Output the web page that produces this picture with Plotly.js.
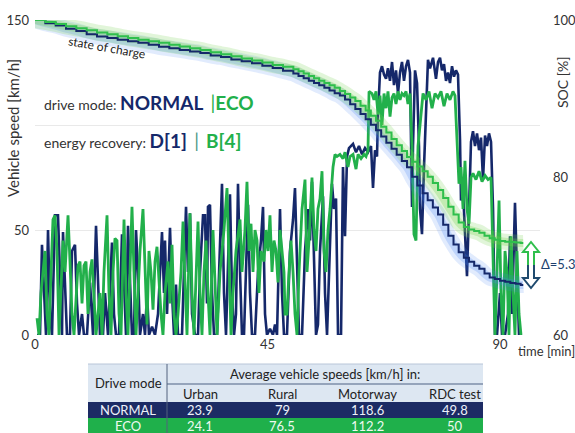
<!DOCTYPE html>
<html><head><meta charset="utf-8">
<script src="https://cdn.plot.ly/plotly-3.0.1.min.js"></script>
<style>html,body{margin:0;padding:0;background:#fff}#chart{width:575px;height:433px}</style>
</head><body><div id="chart"></div>
<script>
// ---- speed traces (time in min, speed in km/h) ----
const normalTime = [0.39,0.97,1.35,1.74,2.13,2.52,2.90,3.29,3.87,4.45,
4.84,5.23,5.42,5.81,6.19,6.77,7.16,7.74,8.13,8.52,
9.10,9.48,10.06,10.65,11.23,11.81,12.19,12.58,13.16,13.55,
14.13,14.52,14.90,15.29,15.68,16.26,16.84,17.23,17.61,18.00,
18.39,18.77,19.16,19.55,19.94,20.32,20.90,21.29,21.68,22.06,
22.65,23.23,23.81,24.19,24.58,24.97,25.16,25.55,26.13,26.52,
26.90,27.29,27.68,28.45,29.23,29.61,30.00,30.39,30.97,31.55,
31.94,32.52,32.90,33.29,33.48,33.87,34.26,34.65,35.23,36.19,
36.58,36.97,37.35,37.74,38.13,38.52,38.90,39.29,39.68,40.06,
40.45,40.84,41.23,41.61,42.00,42.58,43.16,43.74,44.13,44.52,
44.90,45.48,46.06,46.45,46.84,47.42,47.81,48.19,48.77,49.35,
49.94,50.32,50.71,51.10,51.68,52.26,52.84,53.23,53.61,54.00,
54.39,54.77,55.16,55.74,56.13,56.52,57.10,57.48,57.87,58.26,
58.65,59.23,59.61,60.00,60.39,60.77,61.55,62.13,62.71,63.29,
63.87,64.45,65.03,65.42,65.81,66.19,66.39,66.77,67.16,67.55,
67.94,68.32,68.71,69.10,69.48,69.87,70.26,70.65,71.03,71.42,
71.81,72.19,72.58,72.77,72.97,73.16,73.55,73.94,74.32,74.52,
74.90,75.29,75.68,76.06,76.45,77.03,77.61,78.00,78.39,78.77,
79.16,79.55,79.94,80.32,80.71,81.10,81.48,81.87,82.26,82.45,
82.84,83.22,83.61,84.00,84.39,84.77,85.16,85.55,85.94,86.32,
86.71,87.10,87.48,87.87,88.26,88.65,89.03,89.42,90.00,90.39,
90.97,91.55,91.94,92.32,92.90,93.29,93.68,94.26];
const normalSpeed = [0,0,43,20,0,50,10,0,57,57,
30,0,49,20,0,0,40,43,15,0,
10,0,0,25,0,52,30,0,0,20,
0,25,44,10,0,0,48,25,0,52,
20,0,0,50,30,0,10,0,20,0,
4,0,10,30,49,20,45,10,51,20,
0,24,0,0,61,30,58,10,0,0,
30,57,57,15,61,62,20,0,0,72,
20,0,40,67,20,0,10,72,30,0,
0,30,62,20,0,0,30,45,61,10,
0,3,0,5,0,60,20,0,0,40,
55,70,30,0,0,40,60,45,73,30,
0,5,40,66,20,0,50,72,60,65,
0,0,80,47,85,89,91,87,90,86,
89,87,90,70,88,85,105,125,128,124,
122,127,121,130,119,126,115,125,130,121,
128,131,125,100,61,90,126,120,90,60,
48,80,110,131,127,132,122,130,132,126,
129,121,125,120,128,123,126,124,93,64,
69,50,28,60,92,97,90,96,88,94,
74,95,90,96,92,60,0,0,20,0,
0,10,47,10,63,30,0,0];

const ecoTime = [0.39,0.77,1.16,1.94,2.32,2.71,3.10,3.48,3.87,4.26,
4.65,5.03,5.42,5.81,6.39,6.77,7.16,7.55,7.94,8.32,
8.71,9.10,9.48,9.87,10.26,10.65,11.03,11.42,11.81,12.19,
12.58,12.97,13.35,13.94,14.32,14.71,15.10,15.48,15.87,16.26,
16.65,17.23,17.61,18.00,18.39,18.77,19.16,19.55,19.94,20.32,
20.90,21.29,21.68,22.06,22.45,22.84,23.23,23.61,24.00,24.39,
24.77,25.16,25.74,26.13,26.52,26.90,27.29,27.68,28.26,28.65,
29.03,29.42,30.00,30.39,30.77,31.16,31.55,31.94,32.32,32.71,
33.10,33.48,33.87,34.45,34.84,35.23,35.81,36.58,37.16,37.55,
37.94,38.32,38.90,39.68,40.06,40.64,41.03,41.42,41.81,42.19,
42.58,42.97,43.35,43.74,44.32,44.71,45.10,45.48,45.87,46.26,
46.65,47.03,47.42,47.81,48.19,48.39,48.77,49.16,49.55,49.94,
50.32,50.71,51.10,51.68,52.26,52.65,53.03,53.61,54.00,54.39,
54.77,55.16,55.55,55.94,56.32,56.71,57.10,57.68,58.06,58.45,
59.03,59.61,60.00,60.58,60.97,61.55,62.13,62.52,63.10,63.68,
64.06,64.45,64.65,65.23,65.61,66.00,66.39,66.77,67.16,67.55,
67.94,68.32,68.71,69.10,69.48,69.87,70.26,70.65,71.03,71.42,
71.81,72.19,72.58,72.97,73.35,73.74,74.13,74.52,75.10,75.68,
76.26,76.84,77.42,78.00,78.58,79.16,79.74,80.32,80.90,81.29,
81.68,82.06,82.45,82.84,83.22,83.61,84.00,84.39,84.77,85.35,
85.94,86.52,87.10,87.68,88.26,88.65,89.03,89.42,89.81,90.19,
90.58,90.97,91.35,91.74,92.13,92.52,92.90,93.29,93.68,94.06];
const ecoSpeed = [8,0,20,40,10,0,30,55,57,40,
0,20,45,30,57,35,10,0,20,33,
35,15,33,35,10,30,36,20,0,10,
20,0,30,57,20,0,30,46,45,10,
0,55,20,0,35,61,30,0,20,40,
60,30,5,40,30,12,35,42,25,10,
0,20,35,15,43,10,0,10,30,54,
25,0,58,20,0,30,54,20,0,30,
45,20,0,50,20,0,30,50,70,30,
0,20,40,55,30,50,73,40,53,30,
50,45,20,40,35,50,40,57,30,45,
40,25,50,40,30,10,10,30,45,30,
10,0,30,60,74,30,45,75,50,40,
60,65,78,40,30,50,60,80,86,85,
86,84,87,80,85,86,79,86,84,86,
85,88,116,115,112,116,105,114,100,115,
108,116,104,113,115,110,116,112,115,114,
116,110,115,90,48,45,90,100,115,112,
116,108,115,113,116,109,115,112,116,114,
88,72,80,60,83,60,53,75,77,74,
78,73,76,74,75,40,0,30,64,20,
0,40,30,0,47,20,0,40,10,0];

// ---- state of charge (%) ----
const socTime = [0,2,4,6,8,10,12,14,16,18,20,22,24,26,28,30,32,34,36,38,40,42,44,46,48,
50,51,52,53,54,55,56,57,58,59,60,61,62,63,64,65,66,67,68,69,70,71,72,73,74,75,76,77,78,79,
80,81,82,83,84,85,86,87,88,89,90,91,92,93,94,94.5];
const socNormal = [100,99.6,99.3,98.9,98.6,98.2,97.9,97.7,97.5,97.3,97.1,96.85,96.6,96.4,96.2,96.0,95.8,95.5,95.3,95.0,94.75,94.5,94.2,93.9,93.55,
93.2,92.9,92.6,92.3,92.0,91.7,91.4,91.05,90.7,90.4,89.9,89.3,88.7,88.05,87.4,86.7,86.0,85.2,84.4,83.65,82.9,82.1,81.3,80.1,79.0,78.0,77.1,76.2,75.3,74.0,
72.6,71.5,70.5,69.8,69.3,68.8,68.4,67.8,67.3,67.1,66.9,66.75,66.6,66.5,66.35,66.35];
const socEco = [100,99.75,99.5,99.2,98.95,98.7,98.4,98.2,97.95,97.7,97.5,97.3,97.1,96.85,96.65,96.4,96.2,95.9,95.65,95.4,95.1,94.85,94.6,94.3,94.05,
93.75,93.5,93.2,92.9,92.6,92.3,92.0,91.7,91.4,91.0,90.6,90.15,89.7,89.1,88.5,87.85,87.2,86.45,85.7,84.9,84.1,83.35,82.6,82.0,81.4,80.8,80.1,79.3,78.4,77.4,
76.3,75.3,74.3,73.7,73.4,73.2,73.0,72.6,72.3,72.1,71.95,71.85,71.8,71.75,71.68,71.68];

// ---- axis ticks ----
const timeTicks = [0,45,90];
const speedTicks = [0,50,100,150];
const speedTickText = ['0','50','','150'];
const socTicks = [60,80,100];
const socDelta = '5.3';

// ---- table ----
const tableModes = ['NORMAL','ECO'];
const tableColumns = ['Urban','Rural','Motorway','RDC test'];
const avgNormal = [23.9, 79, 118.6, 49.8];
const avgEco = [24.1, 76.5, 112.2, 50];

const NAVY = '#15286a', GREEN = '#22b04b', SOCGREEN = '#2fbf4c';
const FONT = 'Lato, "Open Sans", sans-serif';

const traces = [
  {x: normalTime, y: normalSpeed, type:'scatter', mode:'lines', line:{color:NAVY, width:2.6}, hoverinfo:'skip'},
  {x: ecoTime, y: ecoSpeed, type:'scatter', mode:'lines', line:{color:GREEN, width:2.8}, hoverinfo:'skip'},
  {x: socTime, y: socNormal, yaxis:'y2', type:'scatter', mode:'lines', line:{color:'rgba(70,130,245,0.16)', width:16, shape:'spline'}, hoverinfo:'skip'},
  {x: socTime, y: socNormal, yaxis:'y2', type:'scatter', mode:'lines', line:{color:'rgba(70,130,245,0.22)', width:8, shape:'spline'}, hoverinfo:'skip'},
  {x: socTime, y: socEco, yaxis:'y2', type:'scatter', mode:'lines', line:{color:'rgba(120,210,80,0.22)', width:16, shape:'spline'}, hoverinfo:'skip'},
  {x: socTime, y: socEco, yaxis:'y2', type:'scatter', mode:'lines', line:{color:'rgba(120,210,80,0.28)', width:8, shape:'spline'}, hoverinfo:'skip'},
  {x: socTime, y: socNormal, yaxis:'y2', type:'scatter', mode:'lines', line:{color:NAVY, width:2, shape:'hv'}, hoverinfo:'skip'},
  {x: socTime, y: socEco, yaxis:'y2', type:'scatter', mode:'lines', line:{color:SOCGREEN, width:2, shape:'hv'}, hoverinfo:'skip'}
];

// pixel helpers for layout placement (plot area: x 35..540, y 20..335)
const px = v => (v - 35) / 505;
const py = v => (335 - v) / 315;

const annotations = [
  {xref:'paper', yref:'paper', x:px(13), y:py(128), text:'Vehicle speed [km/h]', textangle:-90, showarrow:false,
   font:{family:FONT, size:15, color:'#333'}, xanchor:'center', yanchor:'middle'},
  {xref:'paper', yref:'paper', x:px(562), y:py(82), text:'SOC [%]', textangle:-90, showarrow:false,
   font:{family:FONT, size:14, color:'#333'}, xanchor:'center', yanchor:'middle'},
  {xref:'paper', yref:'paper', x:px(516), y:py(351), text:'time [min]', showarrow:false,
   font:{family:FONT, size:13, color:'#333'}, xanchor:'left', yanchor:'middle'},
  {xref:'paper', yref:'paper', x:px(107), y:py(47), text:'state of charge', textangle:10, showarrow:false,
   font:{family:FONT, size:12, color:'#222'}, xanchor:'center', yanchor:'middle'},
  {xref:'paper', yref:'paper', x:px(42), y:py(103), showarrow:false, xanchor:'left', yanchor:'middle',
   font:{family:FONT, size:14, color:'#333'},
   text:'drive mode: <span style="font-size:19px;color:'+NAVY+'"><b>NORMAL</b></span>  <span style="font-size:19px;color:'+GREEN+'">|<b>ECO</b></span>'},
  {xref:'paper', yref:'paper', x:px(42), y:py(140), showarrow:false, xanchor:'left', yanchor:'middle',
   font:{family:FONT, size:14, color:'#333'},
   text:'energy recovery: <span style="font-size:19px;color:'+NAVY+'"><b>D[1]</b></span>  <span style="font-size:19px;color:#4f9a86">|</span>  <span style="font-size:19px;color:'+GREEN+'"><b>B[4]</b></span>'},
  {xref:'paper', yref:'paper', x:px(539), y:py(264), text:'Δ='+socDelta, showarrow:false,
   font:{family:FONT, size:13, color:'#1d3f6e'}, xanchor:'left', yanchor:'middle'}
];

// table text
const colX = [200, 282, 367, 455];
const rowY = [410, 426];
const rowText = ['#eef2fa', '#eefaf0'];
annotations.push({xref:'paper', yref:'paper', x:px(128), y:py(383), text:'Drive mode', showarrow:false,
  font:{family:FONT, size:13, color:'#222'}, xanchor:'center', yanchor:'middle'});
annotations.push({xref:'paper', yref:'paper', x:px(325), y:py(374), text:'Average vehicle speeds [km/h] in:', showarrow:false,
  font:{family:FONT, size:13, color:'#222'}, xanchor:'center', yanchor:'middle'});
tableColumns.forEach((c,i)=>annotations.push({xref:'paper', yref:'paper', x:px(colX[i]), y:py(393.5), text:c, showarrow:false,
  font:{family:FONT, size:13, color:'#222'}, xanchor:'center', yanchor:'middle'}));
[avgNormal, avgEco].forEach((row,r)=>{
  annotations.push({xref:'paper', yref:'paper', x:px(128), y:py(rowY[r]), text:tableModes[r], showarrow:false,
    font:{family:FONT, size:13, color:rowText[r]}, xanchor:'center', yanchor:'middle'});
  row.forEach((v,i)=>annotations.push({xref:'paper', yref:'paper', x:px(colX[i]), y:py(rowY[r]), text:String(v), showarrow:false,
    font:{family:FONT, size:13, color:rowText[r]}, xanchor:'center', yanchor:'middle'}));
});

const shapes = [
  {type:'rect', xref:'paper', yref:'paper', x0:px(88), x1:px(483), y0:py(402), y1:py(364), fillcolor:'#dde7f2', line:{width:0}},
  {type:'rect', xref:'paper', yref:'paper', x0:px(88), x1:px(483), y0:py(418), y1:py(402), fillcolor:'#1c2b64', line:{width:0}},
  {type:'rect', xref:'paper', yref:'paper', x0:px(88), x1:px(483), y0:py(433), y1:py(418), fillcolor:'#1fb04b', line:{width:0}},
  {type:'line', xref:'paper', yref:'paper', x0:px(88), x1:px(483), y0:py(364), y1:py(364), line:{color:'#b9c6d8', width:1}},
  {type:'line', xref:'paper', yref:'paper', x0:px(167), x1:px(483), y0:py(384), y1:py(384), line:{color:'#7d8ea8', width:1.5}},
  {type:'line', xref:'paper', yref:'paper', x0:px(167), x1:px(167), y0:py(364), y1:py(433), line:{color:'#52627e', width:1}},
  // delta double arrow (upper half green, lower half navy)
  {type:'path', xref:'paper', yref:'paper', xsizemode:'pixel', ysizemode:'pixel', xanchor:px(531), yanchor:py(265),
   path:'M-3,0 L-3,13 L-8,13 L0,23 L8,13 L3,13 L3,0', line:{color:SOCGREEN, width:2}},
  {type:'path', xref:'paper', yref:'paper', xsizemode:'pixel', ysizemode:'pixel', xanchor:px(531), yanchor:py(265),
   path:'M-3,0 L-3,-13 L-8,-13 L0,-23 L8,-13 L3,-13 L3,0', line:{color:'#1f4a6e', width:2}}
];

const layout = {
  width:575, height:433,
  margin:{l:35, r:35, t:20, b:98, pad:0},
  paper_bgcolor:'#fff', plot_bgcolor:'#fff',
  showlegend:false,
  font:{family:FONT, size:13, color:'#333'},
  xaxis:{range:[0,97.74], tickvals:timeTicks, showgrid:false, zeroline:false, showline:false, ticks:'',
         tickfont:{family:FONT, size:13, color:'#333'}},
  yaxis:{range:[0,150], tickvals:speedTicks, ticktext:speedTickText, showgrid:true, gridcolor:'#e9e9e9', gridwidth:1, zeroline:false, showline:false, ticks:'',
         ticklabelstandoff:5, tickfont:{family:FONT, size:13, color:'#333'}},
  yaxis2:{range:[60,100], tickvals:socTicks, overlaying:'y', side:'right', showgrid:false, zeroline:false, showline:false, ticks:'',
          ticklabelstandoff:12, tickfont:{family:FONT, size:13, color:'#333'}},
  annotations:annotations,
  shapes:shapes
};

Plotly.newPlot('chart', traces, layout, {displayModeBar:false, staticPlot:true});
</script></body></html>
